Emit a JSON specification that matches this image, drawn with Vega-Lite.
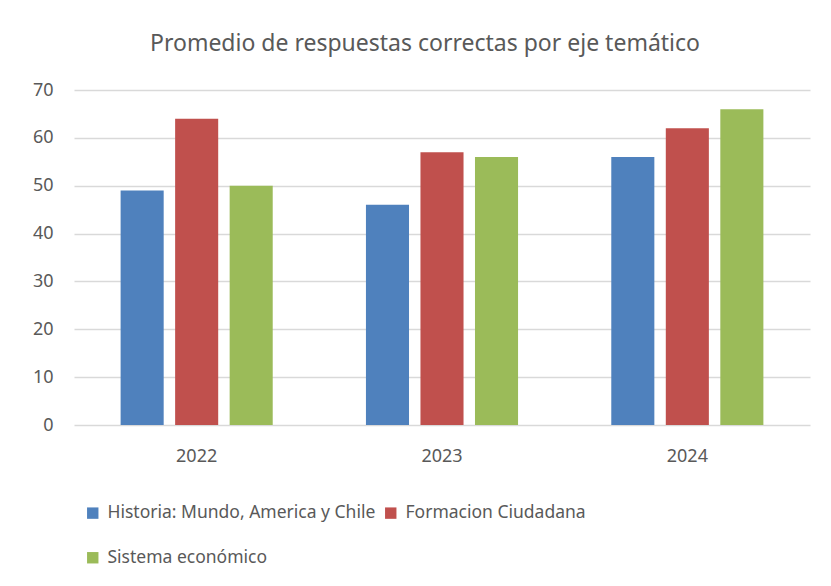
{
  "$schema": "https://vega.github.io/schema/vega-lite/v6.json",
  "autosize": "none",
  "width": 736,
  "height": 335,
  "padding": {"left": 74, "top": 90, "right": 21, "bottom": 161},
  "background": "white",
  "title": {
    "text": "Promedio de respuestas correctas por eje temático",
    "font": "Noto Sans",
    "fontSize": 23,
    "fontWeight": "normal",
    "color": "#595959",
    "anchor": "middle",
    "dx": -17,
    "offset": 25
  },
  "data": {
    "values": [
      {"year": "2022", "eje": "Historia: Mundo, America y Chile", "value": 49},
      {"year": "2022", "eje": "Formacion Ciudadana", "value": 64},
      {"year": "2022", "eje": "Sistema económico", "value": 50},
      {"year": "2023", "eje": "Historia: Mundo, America y Chile", "value": 46},
      {"year": "2023", "eje": "Formacion Ciudadana", "value": 57},
      {"year": "2023", "eje": "Sistema económico", "value": 56},
      {"year": "2024", "eje": "Historia: Mundo, America y Chile", "value": 56},
      {"year": "2024", "eje": "Formacion Ciudadana", "value": 62},
      {"year": "2024", "eje": "Sistema económico", "value": 66}
    ]
  },
  "mark": {"type": "bar"},
  "encoding": {
    "x": {
      "field": "year",
      "type": "nominal",
      "title": null,
      "scale": {"paddingInner": 0.38, "paddingOuter": 0.19},
      "axis": {
        "labelAngle": 0,
        "ticks": false,
        "domain": false,
        "labelFont": "Noto Sans",
        "labelFontSize": 18,
        "labelColor": "#595959",
        "labelPadding": 22
      }
    },
    "xOffset": {
      "field": "eje",
      "type": "nominal",
      "sort": ["Historia: Mundo, America y Chile", "Formacion Ciudadana", "Sistema económico"],
      "scale": {"paddingInner": 0.21, "paddingOuter": 0}
    },
    "y": {
      "field": "value",
      "type": "quantitative",
      "title": null,
      "scale": {"domain": [0, 70], "nice": false},
      "axis": {
        "values": [0, 10, 20, 30, 40, 50, 60, 70],
        "ticks": false,
        "domain": false,
        "grid": true,
        "gridColor": "#D9D9D9",
        "gridWidth": 1.5,
        "labelFont": "Noto Sans",
        "labelFontSize": 18,
        "labelColor": "#595959",
        "labelPadding": 21
      }
    },
    "color": {
      "field": "eje",
      "type": "nominal",
      "sort": ["Historia: Mundo, America y Chile", "Formacion Ciudadana", "Sistema económico"],
      "scale": {
        "domain": ["Historia: Mundo, America y Chile", "Formacion Ciudadana", "Sistema económico"],
        "range": ["#4F81BD", "#C0504D", "#9BBB59"]
      },
      "legend": {
        "title": null,
        "orient": "bottom",
        "direction": "horizontal",
        "columns": 2,
        "symbolType": "square",
        "symbolSize": 130,
        "symbolStrokeWidth": 0,
        "labelFont": "Noto Sans",
        "labelFontSize": 17.5,
        "labelColor": "#595959",
        "labelOffset": 6,
        "columnPadding": 6,
        "rowPadding": 26,
        "padding": 10,
        "offset": 29,
        "labelLimit": 400
      }
    }
  },
  "config": {
    "view": {"stroke": null}
  }
}
